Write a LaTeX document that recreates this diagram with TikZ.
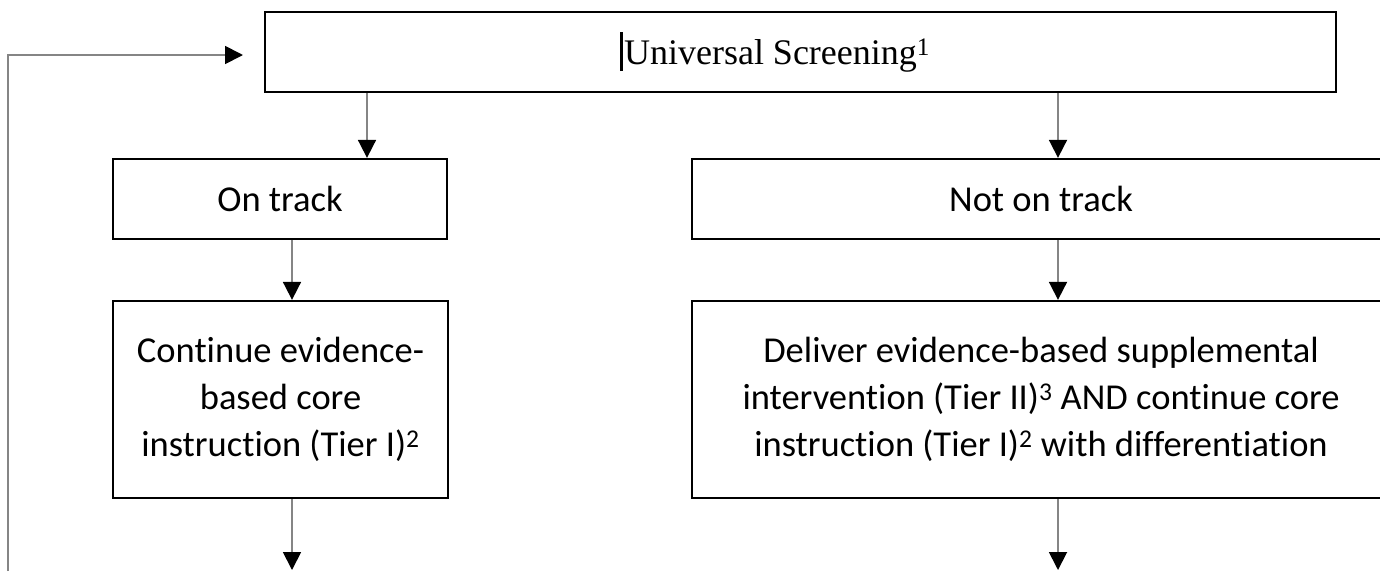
\documentclass[tikz,border=0pt]{standalone}
\usepackage{fontspec}
\setmainfont{Carlito}[Ligatures=NoCommon]
\newfontfamily\timesfont{Liberation Serif}
\usetikzlibrary{arrows.meta}

\tikzset{
    box/.style={shape=rectangle,draw=black,line width=2.3pt,align=center,
        font=\fontsize{36.5}{47}\selectfont},
    arr/.style={draw=black!48,line width=1.8pt,
        -{Triangle[length=18pt,width=18pt,color=black]}}
}

\begin{document}
\begin{tikzpicture}[x=1pt,y=-1pt]
            \useasboundingbox (0,0) rectangle (1380,571);
            \clip (0,0) rectangle (1380,571);

            % boxes
            \node[box,minimum width=1071pt,minimum height=80pt] (screen) at (800.5,52) {};
            \node[font=\timesfont\fontsize{36}{42}\selectfont,inner sep=0pt] (screentext) at (775,52)
                {\rule[-7pt]{2.6pt}{39pt}\hspace{1.5pt}Universal Screening\textsuperscript{1}};
            \node[box,minimum width=334pt,minimum height=80pt] (ontrack) at (280,199) {On track};
            \node[box,minimum width=698pt,minimum height=80pt] (nottrack) at (1041,199) {Not on track};
            \node[box,minimum width=335pt,minimum height=197pt] (core) at (280.5,399.5)
                {Continue evidence-\\based core\\instruction (Tier I)\textsuperscript{2}};
            \node[box,minimum width=698pt,minimum height=197pt] (supp) at (1041,399.5)
                {Deliver evidence-based supplemental\\intervention (Tier II)\textsuperscript{3} AND continue core\\instruction (Tier I)\textsuperscript{2} with differentiation};

            % columns of the arrows
            \coordinate (cl) at (367,0);
            \coordinate (cm) at (292,0);
            \coordinate (cr) at (1058,0);
            \coordinate (endl) at (292,570);
            \coordinate (endr) at (1058,570);
            \coordinate (loopstart) at (8,571);
            \coordinate (loopend) at (243,55);

            % arrows
            \draw[arr] (screen.south -| cl) -- (ontrack.north -| cl);
            \draw[arr] (screen.south -| cr) -- (nottrack.north -| cr);
            \draw[arr] (ontrack.south -| cm) -- (core.north -| cm);
            \draw[arr] (nottrack.south -| cr) -- (supp.north -| cr);
            \draw[arr] (core.south -| cm) -- (endl);
            \draw[arr] (supp.south -| cr) -- (endr);
            \draw[arr] (loopstart) |- (loopend);
\end{tikzpicture}
\end{document}
